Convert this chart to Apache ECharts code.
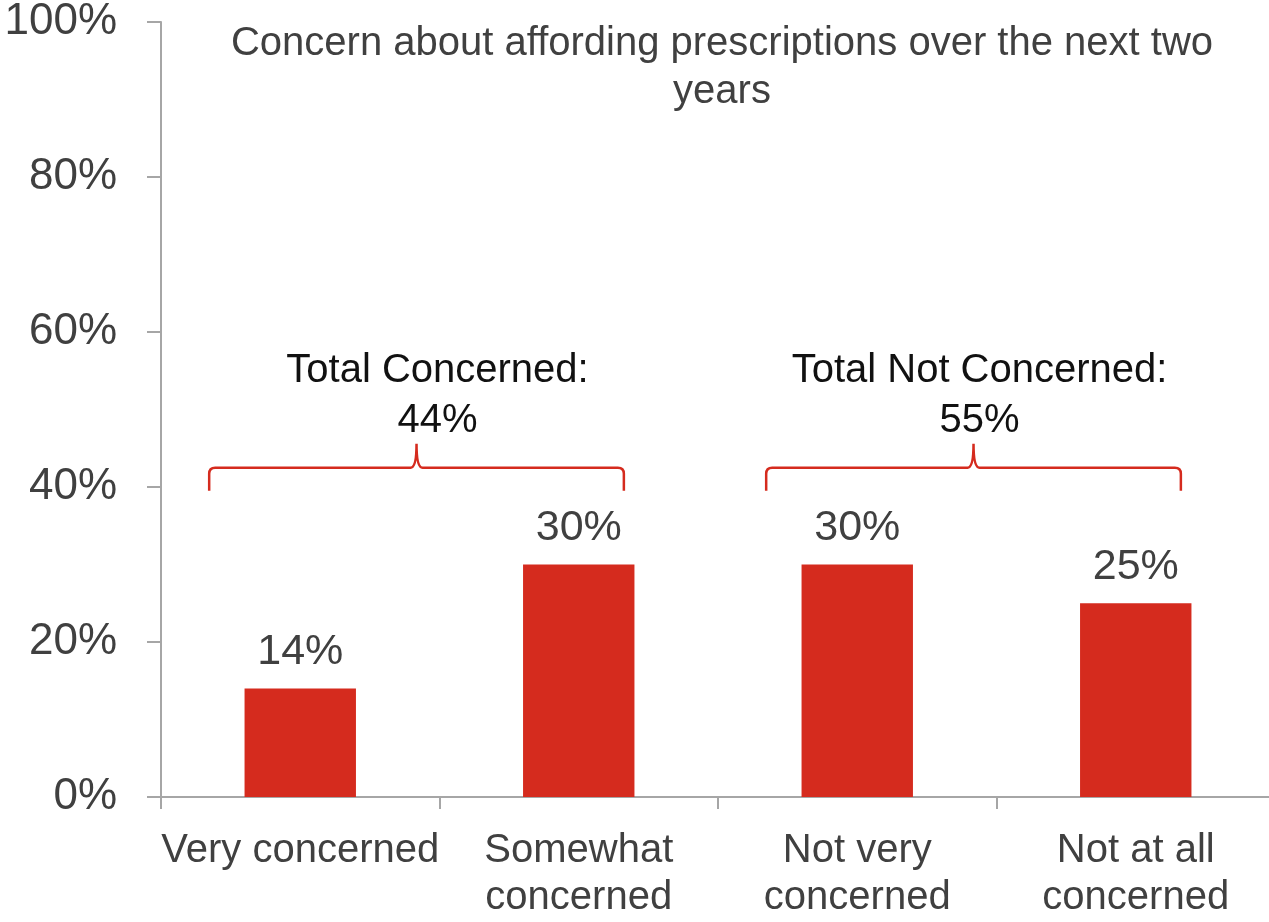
<!DOCTYPE html>
<html>
<head>
<meta charset="utf-8">
<script src="https://cdn.jsdelivr.net/npm/echarts@6/dist/echarts.min.js"></script>
<style>
  html, body { margin: 0; padding: 0; background: #fff; }
  #chart { width: 1269px; height: 922px; }
</style>
</head>
<body>
<div id="chart"></div>
<script>
// Survey responses: share of respondents by level of concern
const categories = ['Very concerned', 'Somewhat\nconcerned', 'Not very\nconcerned', 'Not at all\nconcerned'];
const shares = [14, 30, 30, 25];
const yTicks = [0, 20, 40, 60, 80, 100];

// Grouped totals shown above the braces
const groupNames = ['Total Concerned:', 'Total Not Concerned:'];
const groupStart = [0, 2];
const groupEnd = [1, 3];
const groupTotals = [44, 55];
const braceLevel = 42.5;

const RED = '#d52b1e';
const GREY_TEXT = '#404040';
const AXIS = '#a6a6a6';
const FONT = '"Liberation Sans", Arial, sans-serif';
// horizontal nudge of each group caption relative to its brace tip (px)
const CAPTION_SHIFT = [21, 6];

const chart = echarts.init(document.getElementById('chart'));

const braceData = groupNames.map((n, i) => [groupStart[i], groupEnd[i], groupTotals[i]]);

chart.setOption({
  animation: false,
  textStyle: { fontFamily: FONT },
  graphic: [{
    type: 'text',
    x: 722,
    y: 20,
    style: {
      text: 'Concern about affording prescriptions over the next two\nyears',
      align: 'center',
      verticalAlign: 'top',
      fontSize: 40,
      lineHeight: 48,
      fill: GREY_TEXT,
      fontFamily: FONT
    }
  }],
  grid: { left: 161, top: 22, width: 1114, bottom: 125, containLabel: false, outerBoundsMode: 'none' },
  xAxis: {
    type: 'category',
    data: categories,
    boundaryGap: true,
    axisLine: { show: true, lineStyle: { color: AXIS, width: 2 } },
    axisTick: { show: true, length: 12, lineStyle: { color: AXIS, width: 2 } },
    axisLabel: {
      margin: 30,
      color: GREY_TEXT,
      fontSize: 40,
      lineHeight: 47,
      interval: 0,
      fontFamily: FONT
    },
    splitLine: { show: false }
  },
  yAxis: {
    type: 'value',
    min: 0,
    max: 100,
    interval: 20,
    axisLine: { show: true, lineStyle: { color: AXIS, width: 2 } },
    axisTick: { show: true, length: 14, lineStyle: { color: AXIS, width: 2 } },
    axisLabel: {
      margin: 44,
      color: GREY_TEXT,
      fontSize: 44,
      fontFamily: FONT,
      formatter: v => yTicks.includes(v) ? v + '%' : ''
    },
    splitLine: { show: false }
  },
  series: [
    {
      type: 'bar',
      data: shares,
      barWidth: '40%',
      itemStyle: { color: RED },
      label: {
        show: true,
        position: 'top',
        distance: 15,
        formatter: p => p.value + '%',
        color: GREY_TEXT,
        fontSize: 43,
        lineHeight: 43,
        fontFamily: FONT
      }
    },
    {
      type: 'custom',
      coordinateSystem: 'cartesian2d',
      data: braceData,
      silent: true,
      z: 5,
      renderItem: (params, api) => {
        const band = api.size([1, 0])[0];
        const a = api.coord([api.value(0), braceLevel]);
        const b = api.coord([api.value(1), braceLevel]);
        const x0 = a[0] - 0.327 * band;
        const x1 = b[0] + 0.162 * band;
        const xm = (x0 + x1) / 2;
        const yh = a[1];
        const yb = yh + 23;
        const yp = yh - 24;
        const r = 6;
        const d = `M${x0} ${yb} L${x0} ${yh + r} Q${x0} ${yh} ${x0 + r} ${yh} ` +
          `L${xm - r} ${yh} Q${xm} ${yh} ${xm} ${yp} Q${xm} ${yh} ${xm + r} ${yh} ` +
          `L${x1 - r} ${yh} Q${x1} ${yh} ${x1} ${yh + r} L${x1} ${yb}`;
        const idx = params.dataIndex;
        return {
          type: 'group',
          children: [
            {
              type: 'path',
              shape: { pathData: d },
              style: { stroke: RED, lineWidth: 2.5, fill: null }
            },
            {
              type: 'text',
              x: xm + CAPTION_SHIFT[idx],
              y: yh - 72,
              style: {
                text: groupNames[idx] + '\n' + api.value(2) + '%',
                align: 'center',
                verticalAlign: 'middle',
                fontSize: 40,
                lineHeight: 50,
                fill: '#111',
                fontFamily: FONT
              }
            }
          ]
        };
      }
    }
  ]
});
</script>
</body>
</html>
